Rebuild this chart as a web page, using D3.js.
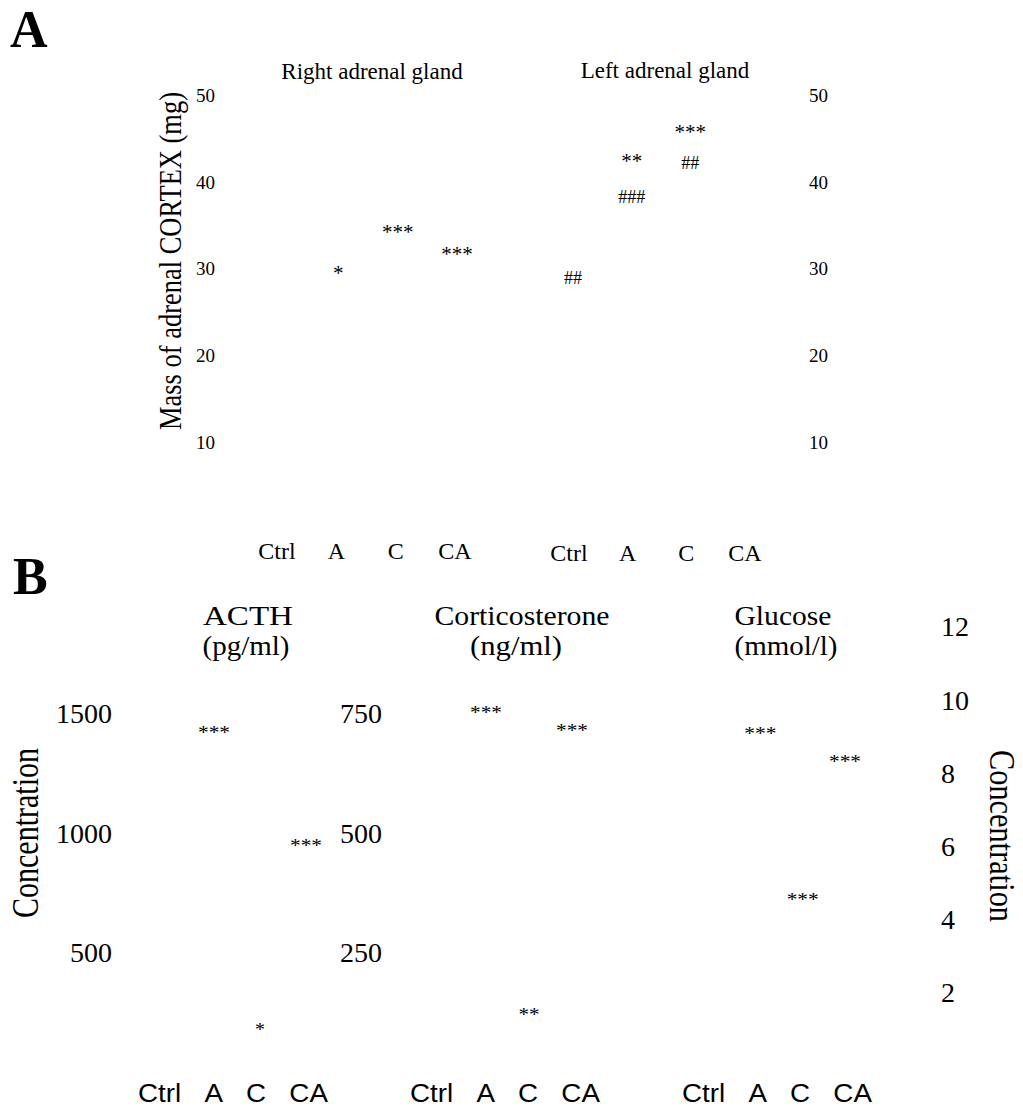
<!DOCTYPE html>
<html>
<head>
<meta charset="utf-8">
<script src="https://cdn.jsdelivr.net/npm/d3@7"></script>
<style>
  body { margin: 0; background: #fff; }
  text { font-family: "Liberation Serif", "Times New Roman", serif; fill: #000; }
</style>
</head>
<body>
<script>
// groups on every x axis
var groups = ["Ctrl", "A", "C", "CA"]

// panel A - mass of adrenal cortex (mg)
var massTicks = [10, 20, 30, 40, 50]
var rightMarkGroups = ["A", "C", "CA"]
var rightMarkText = ["*", "***", "***"]
var rightMarkValue = [29.9, 34.6, 32.1]
var leftMarkGroups = ["Ctrl", "A", "A", "C", "C"]
var leftMarkText = ["##", "**", "###", "***", "##"]
var leftMarkValue = [29.0, 42.7, 38.3, 46.1, 42.2]

// panel B - hormones / glucose
var acthTicks = [500, 1000, 1500]
var cortTicks = [250, 500, 750]
var glucTicks = [2, 4, 6, 8, 10, 12]
var acthMarkGroups = ["A", "C", "CA"]
var acthMarkText = ["***", "*", "***"]
var acthMarkValue = [1433, 189, 959]
var cortMarkGroups = ["A", "C", "CA"]
var cortMarkText = ["***", "**", "***"]
var cortMarkValue = [758, 125, 721]
var glucMarkGroups = ["A", "C", "CA"]
var glucMarkText = ["***", "***", "***"]
var glucMarkValue = [9.15, 4.62, 8.39]

var svg = d3.select("body").append("svg")
  .attr("width", 1023)
  .attr("height", 1109)

function fit(sel, w) {
  sel.attr("textLength", w).attr("lengthAdjust", "spacingAndGlyphs")
}

function zip(g, t, v) {
  return g.map(function(d, i) { return {group: d, text: t[i], value: v[i]} })
}

function drawMarks(data, x, y, size, widths) {
  svg.append("g").selectAll("text")
    .data(data)
    .enter().append("text")
    .attr("x", function(d) { return x(d.group) })
    .attr("y", function(d) { return y(d.value) })
    .attr("dy", function(d) { return d.text[0] == "#" ? "0.34em" : "0.47em" })
    .attr("text-anchor", "middle")
    .attr("font-size", function(d) { return d.text[0] == "#" ? 18 : size })
    .text(function(d) { return d.text })
    .each(function(d) {
      if (widths) fit(d3.select(this), widths[d.text.length])
    })
}

function cleanAxis(g, size) {
  g.select(".domain").remove()
  g.selectAll("text")
    .attr("font-family", "Liberation Serif")
    .attr("font-size", size)
    .attr("fill", "#000")
}

var fmt = d3.format("d")

// ---------- panel A ----------
svg.append("text").attr("x", 10).attr("y", 47)
  .attr("font-size", 52).attr("font-weight", "bold").text("A")

var yA = d3.scaleLinear().domain([0, 50]).range([529.75, 95])
var xRight = d3.scalePoint().domain(groups).range([277, 455])
var xLeft = d3.scalePoint().domain(groups).range([569, 745])

svg.append("g").attr("transform", "translate(215,0)")
  .call(d3.axisLeft(yA).tickValues(massTicks).tickFormat(fmt).tickSize(0).tickPadding(0))
  .call(cleanAxis, 19)
svg.append("g").attr("transform", "translate(809,0)")
  .call(d3.axisRight(yA).tickValues(massTicks).tickFormat(fmt).tickSize(0).tickPadding(0))
  .call(cleanAxis, 19)

svg.append("text").attr("x", 372).attr("y", 79).attr("text-anchor", "middle")
  .attr("font-size", 23).text("Right adrenal gland")
svg.append("text").attr("x", 665).attr("y", 78).attr("text-anchor", "middle")
  .attr("font-size", 23).text("Left adrenal gland")

svg.append("text")
  .attr("transform", "translate(181,261) rotate(-90)")
  .attr("text-anchor", "middle")
  .attr("font-size", 31)
  .text("Mass of adrenal CORTEX (mg)")
  .call(fit, 338)

svg.append("g").selectAll("text").data(groups).enter().append("text")
  .attr("x", function(d) { return xRight(d) }).attr("y", 559)
  .attr("text-anchor", "middle").attr("font-size", 24).text(function(d) { return d })
svg.append("g").selectAll("text").data(groups).enter().append("text")
  .attr("x", function(d) { return xLeft(d) }).attr("y", 561)
  .attr("text-anchor", "middle").attr("font-size", 24).text(function(d) { return d })

drawMarks(zip(rightMarkGroups, rightMarkText, rightMarkValue), function(g) { return xRight(g) + 2 }, yA, 21)
drawMarks(zip(leftMarkGroups, leftMarkText, leftMarkValue), function(g) { return xLeft(g) + 4 }, yA, 21)

// ---------- panel B ----------
svg.append("text").attr("x", 13).attr("y", 594)
  .attr("font-size", 52).attr("font-weight", "bold").text("B")

var yActh = d3.scaleLinear().domain([0, 1500]).range([1072, 714])
var yCort = d3.scaleLinear().domain([0, 750]).range([1072, 714])
var yGluc = d3.scaleLinear().domain([0, 12]).range([1066, 627])

svg.append("g").attr("transform", "translate(112,0)")
  .call(d3.axisLeft(yActh).tickValues(acthTicks).tickFormat(fmt).tickSize(0).tickPadding(0))
  .call(cleanAxis, 28)
svg.append("g").attr("transform", "translate(382,0)")
  .call(d3.axisLeft(yCort).tickValues(cortTicks).tickFormat(fmt).tickSize(0).tickPadding(0))
  .call(cleanAxis, 28)
svg.append("g").attr("transform", "translate(941,0)")
  .call(d3.axisRight(yGluc).tickValues(glucTicks).tickFormat(fmt).tickSize(0).tickPadding(0))
  .call(cleanAxis, 28)

var panels = [
  {name: "ACTH", unit: "(pg/ml)", cx: 248, ux: 246, nw: 90, uw: 87, lab: 233, bars: [168, 306]},
  {name: "Corticosterone", unit: "(ng/ml)", cx: 522, ux: 516, nw: 175, uw: 92, lab: 505, bars: [443, 572]},
  {name: "Glucose", unit: "(mmol/l)", cx: 783, ux: 786, nw: 97, uw: 103, lab: 777, bars: [718, 845]}
]

panels.forEach(function(p) {
  svg.append("text").attr("x", p.cx).attr("y", 625).attr("text-anchor", "middle")
    .attr("font-size", 28).text(p.name).call(fit, p.nw)
  svg.append("text").attr("x", p.ux).attr("y", 655).attr("text-anchor", "middle")
    .attr("font-size", 28).text(p.unit).call(fit, p.uw)
  svg.append("text").attr("x", p.lab).attr("y", 1102).attr("text-anchor", "middle")
    .attr("font-size", 25).style("font-family", "Liberation Sans, Arial, sans-serif")
    .text(groups.join("\u00a0\u00a0\u00a0")).call(fit, 190)
  p.x = d3.scalePoint().domain(groups).range(p.bars)
})

var bWidths = {1: 10, 2: 21, 3: 32}
drawMarks(zip(acthMarkGroups, acthMarkText, acthMarkValue), panels[0].x, yActh, 19, bWidths)
drawMarks(zip(cortMarkGroups, cortMarkText, cortMarkValue), panels[1].x, yCort, 19, bWidths)
drawMarks(zip(glucMarkGroups, glucMarkText, glucMarkValue), panels[2].x, yGluc, 19, bWidths)

svg.append("text")
  .attr("transform", "translate(38,833) rotate(-90)")
  .attr("text-anchor", "middle").attr("font-size", 38)
  .text("Concentration").call(fit, 170)
svg.append("text")
  .attr("transform", "translate(990,836) rotate(90)")
  .attr("text-anchor", "middle").attr("font-size", 36)
  .text("Concentration").call(fit, 172)
</script>
</body>
</html>
